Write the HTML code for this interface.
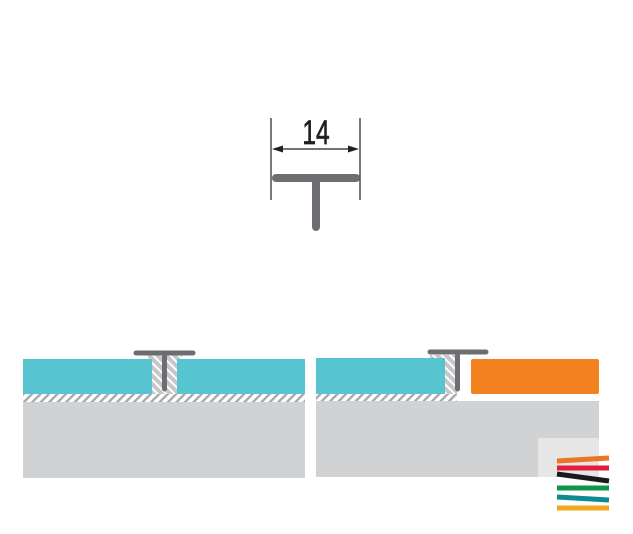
<!DOCTYPE html>
<html><head><meta charset="utf-8"><style>
html,body{margin:0;padding:0;background:#fff;}
svg{display:block;}
</style></head><body>
<svg width="633" height="534" viewBox="0 0 633 534" xmlns="http://www.w3.org/2000/svg">
<defs>
<pattern id="hs" width="6" height="6" patternUnits="userSpaceOnUse" patternTransform="rotate(45)">
<rect width="6" height="6" fill="#fff"/><rect width="2.4" height="6" fill="#a7a9ac"/>
</pattern>
<pattern id="hi" width="6" height="6" patternUnits="userSpaceOnUse" patternTransform="rotate(-45)">
<rect width="6" height="6" fill="#c6c7c9"/><rect width="2" height="6" fill="#fff"/>
</pattern>
</defs>
<line x1="271" y1="118" x2="271" y2="200" stroke="#231f20" stroke-width="1.2"/>
<line x1="360" y1="118" x2="360" y2="200" stroke="#231f20" stroke-width="1.2"/>
<line x1="278" y1="149" x2="353" y2="149" stroke="#231f20" stroke-width="1.2"/>
<polygon points="272,149 283,145.5 283,152.5" fill="#231f20"/>
<polygon points="359,149 348,145.5 348,152.5" fill="#231f20"/>
<text x="316" y="144" text-anchor="middle" font-family="'Liberation Sans',sans-serif" font-size="34" fill="#231f20" stroke="#231f20" stroke-width="0.7" transform="translate(316 0) scale(0.72 1) translate(-316 0)">14</text>
<line x1="276" y1="178" x2="356" y2="178" stroke="#6d6e71" stroke-width="8" stroke-linecap="round"/>
<line x1="316" y1="178" x2="316" y2="227" stroke="#6d6e71" stroke-width="8" stroke-linecap="round"/>

<rect x="23" y="402" width="282" height="76" fill="#d1d2d4"/>
<rect x="23" y="394" width="282" height="8" fill="url(#hs)"/>
<rect x="23" y="359" width="129" height="35" fill="#56c5d0"/>
<rect x="177" y="359" width="128" height="35" fill="#56c5d0"/>
<rect x="148" y="355" width="34" height="4" fill="url(#hi)"/>
<rect x="152" y="355" width="25" height="39" fill="url(#hi)"/>
<line x1="136" y1="353" x2="193" y2="353" stroke="#6d6e71" stroke-width="5" stroke-linecap="round"/>
<line x1="164.5" y1="353" x2="164.5" y2="389" stroke="#6d6e71" stroke-width="5" stroke-linecap="round"/>

<rect x="316" y="401" width="283" height="76" fill="#d1d2d4"/>
<rect x="538" y="438" width="61" height="39" fill="#e6e6e7"/>
<rect x="316" y="394" width="141" height="7" fill="url(#hs)"/>
<rect x="430" y="355" width="27" height="39" fill="url(#hi)"/>
<rect x="316" y="358" width="129" height="36" fill="#56c5d0"/>
<rect x="471" y="359" width="128" height="35" rx="2" fill="#f58220"/>
<line x1="430" y1="352" x2="486" y2="352" stroke="#6d6e71" stroke-width="5" stroke-linecap="round"/>
<line x1="457.5" y1="352" x2="457.5" y2="389" stroke="#6d6e71" stroke-width="5" stroke-linecap="round"/>

<line x1="557" y1="461" x2="609" y2="458" stroke="#ec7423" stroke-width="5"/>
<line x1="557" y1="468" x2="609" y2="468" stroke="#e31e3b" stroke-width="5"/>
<line x1="557" y1="474" x2="609" y2="481" stroke="#1a1a1a" stroke-width="5"/>
<line x1="557" y1="488" x2="609" y2="488" stroke="#0f9547" stroke-width="5"/>
<line x1="557" y1="497" x2="609" y2="500" stroke="#0e8a93" stroke-width="5"/>
<line x1="557" y1="508" x2="609" y2="508" stroke="#f0a81c" stroke-width="5"/>
</svg>
</body></html>
